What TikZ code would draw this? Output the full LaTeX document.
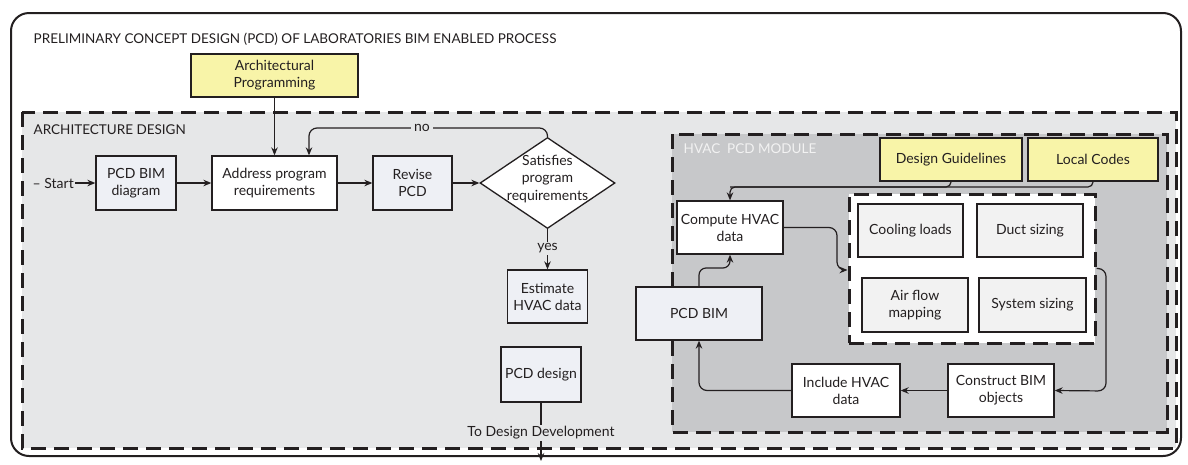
\documentclass[tikz,border=0pt]{standalone}
\usepackage{fontspec}
\setmainfont{Lato}
\usetikzlibrary{shapes.geometric,arrows.meta,calc}
\definecolor{archgray}{HTML}{E6E7E8}
\definecolor{hvacgray}{HTML}{C7C8CA}
\definecolor{boxblue}{HTML}{EEF0F5}
\definecolor{tilegray}{HTML}{F2F2F2}
\definecolor{yellowbox}{HTML}{F8F4A8}
\definecolor{linec}{HTML}{231F20}
\definecolor{textc}{HTML}{231F20}
\definecolor{modlabel}{HTML}{F2F2F2}
\begin{document}
\begin{tikzpicture}[x=1pt,y=-1pt,
  font=\fontsize{14}{17}\selectfont,
  basebox/.style={draw=linec, line width=1.3pt, text=textc, align=center, inner sep=2pt},
  whitebox/.style={basebox, fill=white},
  bluebox/.style={basebox, fill=boxblue},
  tilebox/.style={basebox, fill=tilegray},
  ybox/.style={basebox, fill=yellowbox},
  region/.style={draw=linec, line width=3pt, dash pattern=on 15pt off 8pt},
  conn/.style={draw=linec, line width=1.2pt},
  arr/.style={conn, -{Stealth[length=8pt,width=6.5pt]}},
  lbl/.style={text=textc, inner sep=1.5pt}
]
\useasboundingbox (0,0) rectangle (1188,464);
% outer frame
\draw[linec, line width=2pt, rounded corners=18pt] (11,13) rectangle (1181,456);
\node[lbl, anchor=west, font=\fontsize{13.5}{16}\selectfont] (title) at (32,39) {PRELIMINARY CONCEPT DESIGN (PCD) OF LABORATORIES BIM ENABLED PROCESS};
% regions
\draw[region, fill=archgray] (22,112) rectangle (1176,448);
\node[lbl, anchor=west, font=\fontsize{13.5}{16}\selectfont] (archlbl) at (32,130) {ARCHITECTURE DESIGN};
\draw[region, fill=hvacgray] (672,134) rectangle (1167,432);
\node[lbl, anchor=west, text=modlabel, font=\fontsize{13.5}{16}\selectfont] (hvaclbl) at (682,149) {HVAC\ \ PCD MODULE};
\node[region, fill=white, minimum width=246pt, minimum height=149pt, inner sep=0pt] (inner) at (972,268.5) {};

% nodes
\node[ybox, minimum width=167pt, minimum height=43pt] (archprog) at (274.5,75.5) {Architectural\\Programming};
\node[lbl, anchor=west] (start) at (31,183) {-- Start};
\node[bluebox, minimum width=80pt, minimum height=54pt] (pcdbimd) at (136,183) {PCD BIM\\diagram};
\node[whitebox, minimum width=125pt, minimum height=54pt] (address) at (274.5,183) {Address program\\requirements};
\node[bluebox, minimum width=79pt, minimum height=54pt] (revise) at (412.5,183) {Revise\\PCD};
\node[draw=linec, line width=1.3pt, fill=white, diamond, minimum width=135pt, minimum height=91pt, inner sep=0pt] (dec) at (547.5,183) {};
\node[lbl, align=center, font=\fontsize{14}{17.5}\selectfont] (dectxt) at (547.5,179) {Satisfies\\program\\requirements};
\node[bluebox, minimum width=80pt, minimum height=53pt] (estimate) at (547.5,296.5) {Estimate\\HVAC data};
\node[bluebox, minimum width=80pt, minimum height=55pt] (pcddesign) at (541,374.5) {PCD design};

\node[ybox, minimum width=142pt, minimum height=43pt] (dg) at (951,159.5) {Design Guidelines};
\node[ybox, minimum width=130pt, minimum height=43pt] (lc) at (1093,159.5) {Local Codes};
\node[whitebox, minimum width=106pt, minimum height=53pt] (compute) at (730,227.5) {Compute HVAC\\data};
\node[tilebox, minimum width=105pt, minimum height=53pt] (cooling) at (910.5,230.5) {Cooling loads};
\node[tilebox, minimum width=106pt, minimum height=53pt] (duct) at (1030,230.5) {Duct sizing};
\node[tilebox, minimum width=106pt, minimum height=54pt] (airflow) at (915,305) {Air flow\\mapping};
\node[tilebox, minimum width=107pt, minimum height=54pt] (system) at (1032.5,305) {System sizing};
\node[bluebox, minimum width=126pt, minimum height=53pt] (pcdbim) at (699,313.5) {PCD BIM};
\node[whitebox, minimum width=108pt, minimum height=53pt] (include) at (846,390.5) {Include HVAC\\data};
\node[whitebox, minimum width=106pt, minimum height=53pt] (construct) at (1001,390.5) {Construct BIM\\objects};

% coordinates
\coordinate (nol) at (309,128);
\coordinate (out) at (541,461);
\coordinate (gl) at (730,187);
\coordinate (c1) at (837,270);
\coordinate (c2) at (699,268);
\coordinate (c3) at (1106,391);

% connectors
\draw[arr] (start.east) -- (pcdbimd.west);
\draw[arr] (pcdbimd.east) -- (address.west);
\draw[arr] (archprog.south) -- (address.north);
\draw[arr] (address.east) -- (revise.west);
\draw[arr] (revise.east) -- (dec.west);
\draw[arr, rounded corners=8pt] (dec.north) |- (nol) -- (nol |- address.north);
\node[lbl, fill=archgray, inner sep=3pt] (nolbl) at (422,128) {no};
\draw[arr] (dec.south) -- node[lbl, fill=archgray, pos=0.48] (yeslbl) {yes} (estimate.north);
\draw[arr] (pcddesign.south) -- node[lbl, fill=archgray, pos=0.52] (tdd) {To Design Development} (out);

\draw[conn, rounded corners=5pt] (lc.south) |- (gl);
\draw[arr, rounded corners=5pt] (dg.south) |- (gl) -- (compute.north);
\draw[arr, rounded corners=8pt] (compute.east) -| (c1) -- (c1 -| inner.west);
\draw[arr, rounded corners=7pt] (pcdbim.north) |- (c2 -| compute.south) -- (compute.south);
\draw[arr, rounded corners=8pt] (inner.east) -| (c3) -- (construct.east);
\draw[arr] (construct.west) -- (include.east);
\draw[arr, rounded corners=8pt] (include.west) -| (pcdbim.south);
\end{tikzpicture}
\end{document}
